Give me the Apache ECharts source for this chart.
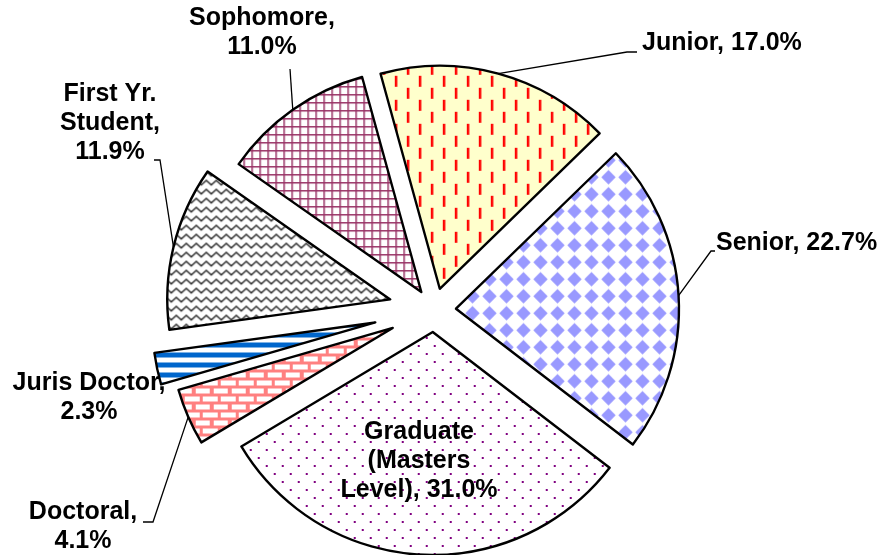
<!DOCTYPE html>
<html>
<head>
<meta charset="utf-8">
<script src="https://cdn.jsdelivr.net/npm/echarts@6/dist/echarts.min.js"></script>
<style>
  html, body { margin: 0; padding: 0; background: #fff; }
  #chart { width: 896px; height: 555px; }
</style>
</head>
<body>
<div id="chart"></div>
<script>
// Share of students by level (%), clockwise from the top of the pie
const categories = ['Junior', 'Senior', 'Graduate (Masters Level)', 'Doctoral', 'Juris Doctor', 'First Yr. Student', 'Sophomore'];
const shares = [17.0, 22.7, 31.0, 4.1, 2.3, 11.9, 11.0];
// label text as printed on the chart, and what goes between name and percent
const labelNames = ['Junior', 'Senior', 'Graduate\n(Masters\nLevel)', 'Doctoral', 'Juris Doctor', 'First Yr.\nStudent', 'Sophomore'];
const labelBreaks = [' ', ' ', ' ', '\n', '\n', '\n', '\n'];

const CX = 434, CY = 310, R = 223;
const START = 105.4;
const FONT = "'Liberation Sans', Arial, Helvetica, sans-serif";

// how far each slice is pulled out of the pie
const explode = {
  'Junior': 22, 'Senior': 22, 'Graduate (Masters Level)': 22, 'Sophomore': 22,
  'Doctoral': 45, 'First Yr. Student': 45, 'Juris Doctor': 60
};

// where each label sits, plus the bend points of its leader line
const labelSpots = {
  'Junior': { x: 642, y: 43, align: 'left', line: [[627, 52], [637, 52]] },
  'Senior': { x: 716, y: 243, align: 'left', line: [[711, 251], [715, 251]] },
  'Graduate (Masters Level)': { x: 419, y: 461, align: 'center' },
  'Doctoral': { x: 83, y: 527, align: 'center', line: [[153, 522], [143, 522]] },
  'Juris Doctor': { x: 89, y: 398, align: 'center' },
  'First Yr. Student': { x: 110, y: 123, align: 'center', line: [[160, 160], [154, 160]] },
  'Sophomore': { x: 262, y: 33, align: 'center', line: [[290, 69]] }
};

function tile(w, h, draw) {
  const c = document.createElement('canvas');
  c.width = w; c.height = h;
  const ctx = c.getContext('2d');
  draw(ctx, w, h);
  return { image: c, repeat: 'repeat' };
}

const fills = {
  'Junior': tile(24, 24, (ctx, w, h) => {
    ctx.fillStyle = '#ffffcc'; ctx.fillRect(0, 0, w, h);
    ctx.fillStyle = '#ff0000';
    ctx.fillRect(5, 1, 2.5, 11);
    ctx.fillRect(17, 13, 2.5, 11);
  }),
  'Senior': tile(17, 17, (ctx, w, h) => {
    ctx.fillStyle = '#ffffff'; ctx.fillRect(0, 0, w, h);
    ctx.fillStyle = '#9999ff';
    ctx.beginPath();
    ctx.moveTo(8.5, 1.3); ctx.lineTo(15.7, 8.5); ctx.lineTo(8.5, 15.7); ctx.lineTo(1.3, 8.5);
    ctx.closePath(); ctx.fill();
  }),
  'Graduate (Masters Level)': tile(16, 16, (ctx, w, h) => {
    ctx.fillStyle = '#ffffff'; ctx.fillRect(0, 0, w, h);
    ctx.fillStyle = '#800080';
    ctx.fillRect(3, 3, 2, 2);
    ctx.fillRect(11, 11, 2, 2);
  }),
  'Doctoral': tile(18, 16, (ctx, w, h) => {
    ctx.fillStyle = '#ff8080'; ctx.fillRect(0, 0, w, h);
    ctx.fillStyle = '#ffffff';
    ctx.fillRect(3, 2.5, 14, 5);
    ctx.fillRect(0, 10.5, 7, 5);
    ctx.fillRect(10, 10.5, 8, 5);
  }),
  'Juris Doctor': tile(10, 10, (ctx, w, h) => {
    ctx.fillStyle = '#ffffff'; ctx.fillRect(0, 0, w, h);
    ctx.fillStyle = '#0066cc'; ctx.fillRect(0, 0, w, 5);
  }),
  'First Yr. Student': tile(10, 9, (ctx, w, h) => {
    ctx.fillStyle = '#ffffff'; ctx.fillRect(0, 0, w, h);
    ctx.strokeStyle = '#333333'; ctx.lineWidth = 1.6;
    ctx.beginPath();
    ctx.moveTo(-2.5, 4); ctx.lineTo(0, 2); ctx.lineTo(5, 6.5); ctx.lineTo(10, 2); ctx.lineTo(12.5, 4);
    ctx.stroke();
  }),
  'Sophomore': tile(8, 8, (ctx, w, h) => {
    ctx.fillStyle = '#ffffff'; ctx.fillRect(0, 0, w, h);
    ctx.fillStyle = '#993366';
    ctx.fillRect(0, 0, w, 1.5);
    ctx.fillRect(0, 0, 1.5, h);
  })
};

const base = {
  type: 'pie',
  center: [CX, CY],
  radius: R,
  startAngle: START,
  clockwise: true,
  silent: true,
  animation: false,
  avoidLabelOverlap: false,
  emphasis: { disabled: true }
};

// one pie per explode distance; slices of the other groups are left empty
const offsets = [...new Set(categories.map(c => explode[c]))];
const sliceSeries = offsets.map(off => Object.assign({}, base, {
  selectedMode: 'multiple',
  selectedOffset: off,
  label: { show: false },
  labelLine: { show: false },
  select: { itemStyle: { borderColor: '#000', borderWidth: 2.4 } },
  data: categories.map((c, i) => explode[c] === off
    ? { name: c, value: shares[i], selected: true,
        itemStyle: { color: fills[c], borderColor: '#000', borderWidth: 2.4 } }
    : { name: c, value: shares[i],
        itemStyle: { color: 'rgba(0,0,0,0)', borderWidth: 0 } })
}));

// labels live on an empty pie so their coordinates are plain page pixels
const labelSeries = Object.assign({}, base, {
  z: 5,
  itemStyle: { color: 'rgba(0,0,0,0)', borderWidth: 0 },
  label: {
    show: true,
    position: 'outside',
    formatter: p => labelNames[p.dataIndex] + ',' + labelBreaks[p.dataIndex] + shares[p.dataIndex].toFixed(1) + '%',
    fontFamily: FONT,
    fontWeight: 'bold',
    fontSize: 25,
    lineHeight: 29,
    color: '#000'
  },
  labelLine: { show: true, length: 20, length2: 10, lineStyle: { color: '#000', width: 1.3 } },
  labelLayout: function (p) {
    const name = categories[p.dataIndex];
    const spot = labelSpots[name];
    const out = { x: spot.x, y: spot.y, align: spot.align, verticalAlign: 'middle' };
    const pts = p.labelLinePoints;
    if (pts && spot.line) {
      const dx = pts[0][0] - CX, dy = pts[0][1] - CY;
      const len = Math.hypot(dx, dy);
      const k = (len + explode[name]) / len;
      out.labelLinePoints = [[CX + dx * k, CY + dy * k]].concat(spot.line);
    }
    return out;
  },
  data: categories.map((c, i) => {
    const item = { name: c, value: shares[i] };
    if (!labelSpots[c].line) {
      item.labelLine = { show: false };
      if (c === 'Graduate (Masters Level)') item.label = { position: 'inside' };
    }
    return item;
  })
});

const chart = echarts.init(document.getElementById('chart'), null, { renderer: 'canvas' });
chart.setOption({
  backgroundColor: '#ffffff',
  animation: false,
  series: sliceSeries.concat([labelSeries])
});
</script>
</body>
</html>
